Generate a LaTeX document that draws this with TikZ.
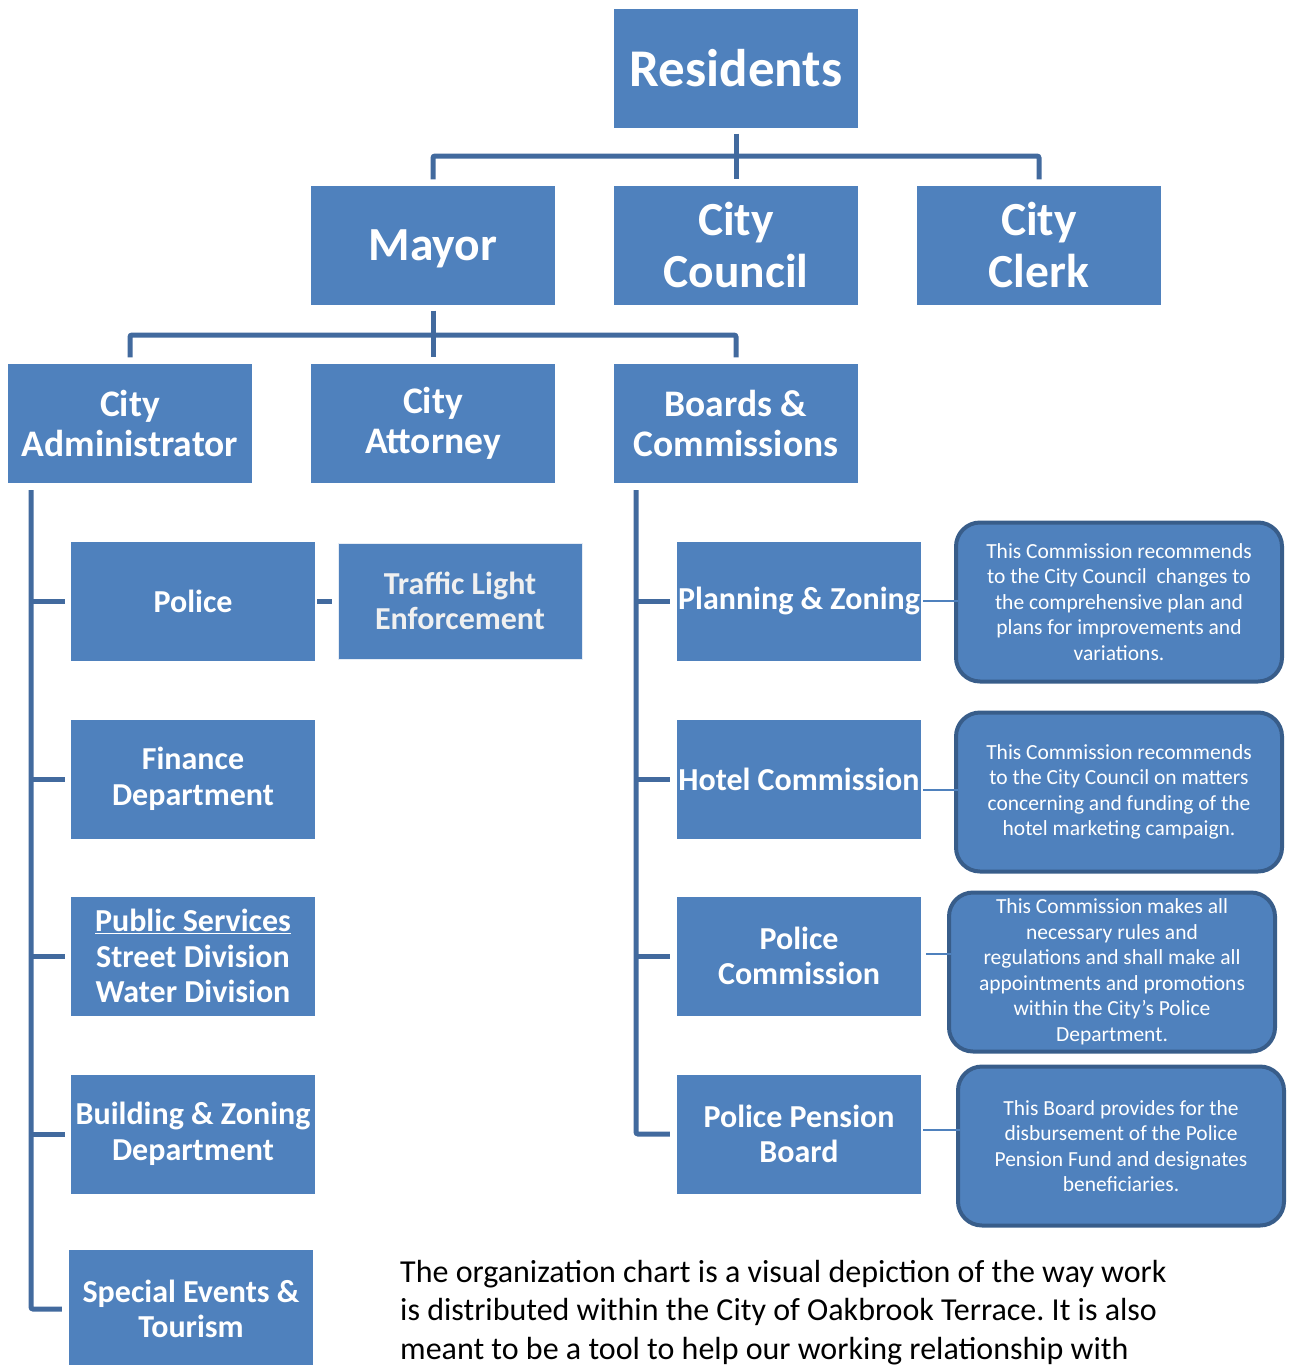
\documentclass[tikz,border=0pt]{standalone}
\usepackage{fontspec}
\setmainfont{Carlito}
\usepackage{xcolor}
\usetikzlibrary{positioning}
\frenchspacing

\definecolor{officeblue}{RGB}{79,129,189}
\definecolor{linkblue}{RGB}{66,106,158}
\definecolor{noteedge}{RGB}{56,93,138}

\begin{document}
\begin{tikzpicture}[x=1pt, y=-1pt, conn/.style={draw=linkblue, line width=5pt, rounded corners=2pt}, thinlink/.style={draw=officeblue, line width=2.2pt}]
% Define styles for the boxes and the notes
\tikzstyle{unit} = [fill=officeblue, text=white, align=center, inner sep=0pt, minimum width=244pt, minimum height=119pt, font=\bfseries\fontsize{32}{35.5}\selectfont]
\tikzstyle{top} = [unit, font=\bfseries\fontsize{47.5}{52}\selectfont]
\tikzstyle{mid} = [unit, font=\bfseries\fontsize{37.5}{40}\selectfont]
\tikzstyle{note} = [draw=noteedge, line width=4pt, fill=officeblue, rounded corners=24pt, text=white, align=center, inner sep=0pt, minimum width=326pt, minimum height=159pt, font=\fontsize{21.5}{25.5}\selectfont]

\useasboundingbox (0,0) rectangle (1290,1365);

% Nodes placement
\node [top, font=\bfseries\fontsize{53}{56}\selectfont] (res) at (736,68) {Residents};
\node [top, below of=res, node distance=177pt] (council) {City\\Council};
\node [top, left of=council, node distance=303pt, text depth=-4pt] (mayor) {Mayor};
\node [top, right of=council, node distance=303pt] (clerk) {City\\Clerk};
\node [mid, below of=mayor, node distance=178pt] (att) {City\\Attorney};
\node [mid, left of=att, node distance=303pt] (admin) {City\\Administrator};
\node [mid, right of=att, node distance=303pt] (boards) {Boards \&\\Commissions};

\node [unit] (police) at (193,601) {Police};
\node [unit, draw=white!85!officeblue, line width=0.8pt, text=white!94!black, right of=police, node distance=267pt, minimum height=116pt] (traffic) {Traffic Light\\Enforcement};
\node [unit, below of=police, node distance=178pt] (finance) {Finance\\Department};
\node [unit, below of=finance, node distance=177pt] (public) {\underline{Public Services}\\Street Division\\Water Division};
\node [unit, below of=public, node distance=178pt] (building) {Building \& Zoning\\Department};
\node [unit, below of=building, node distance=175pt, xshift=-2pt] (special) {Special Events \&\\Tourism};

\node [unit] (planning) at (799,601) {Planning \& Zoning};
\node [unit, below of=planning, node distance=178pt] (hotel) {Hotel Commission};
\node [unit, below of=hotel, node distance=177pt] (polcomm) {Police\\Commission};
\node [unit, below of=polcomm, node distance=178pt] (pension) {Police Pension\\Board};

\node [note] (plannote) at (1119,602) {This Commission recommends\\to the City Council\ \ changes to\\the comprehensive plan and\\plans for improvements and\\variations.};
\node [note] (hotelnote) at (1119,792) {This Commission recommends\\to the City Council on matters\\concerning and funding of the\\hotel marketing campaign.};
\node [note] (polnote) at (1112,972) {This Commission makes all\\necessary rules and\\regulations and shall make all\\appointments and promotions\\within the City’s Police\\Department.};
\node [note] (pensionnote) at (1121,1146) {This Board provides for the\\disbursement of the Police\\Pension Fund and designates\\beneficiaries.};

\node [anchor=base west, align=left, inner sep=0pt, font=\fontsize{32}{38.5}\selectfont] (blurb) at (400,1359) {The organization chart is a visual depiction of the way work\\is distributed within the City of Oakbrook Terrace. It is also\\meant to be a tool to help our working relationship with};

% Draw edges
\coordinate (topbar) at (736,156);
\coordinate (midbar) at (433,335);
\draw[conn] ([yshift=-6pt]res.south) -- ([yshift=6pt]council.north);
\draw[conn] ([yshift=6pt]mayor.north) -- (mayor.north |- topbar) -- (clerk.north |- topbar) -- ([yshift=6pt]clerk.north);
\draw[conn] ([yshift=-6pt]mayor.south) -- ([yshift=6pt]att.north);
\draw[conn] ([yshift=6pt]admin.north) -- (admin.north |- midbar) -- (boards.north |- midbar) -- ([yshift=6pt]boards.north);

% Spines down the two columns
\coordinate (lspine) at (31,490);
\coordinate (rspine) at (636,490);
\draw[conn] (lspine) |- ([xshift=-7pt]special.west);
\foreach \n in {police, finance, public, building}
  \draw[conn, rounded corners=0pt] (lspine |- \n.west) -- ([xshift=-6pt]\n.west);
\draw[conn] (rspine) |- ([xshift=-7pt]pension.west);
\foreach \n in {planning, hotel, polcomm}
  \draw[conn, rounded corners=0pt] (rspine |- \n.west) -- ([xshift=-7pt]\n.west);
\draw[conn, rounded corners=0pt] ([xshift=2pt]police.east) -- ([xshift=-6pt]traffic.west);

% Thin links to the notes
\draw[thinlink] ([xshift=2pt]planning.east) -- ([xshift=4pt]plannote.west |- planning.east);
\draw[thinlink] ([xshift=2pt,yshift=2pt]hotel.east |- hotelnote.west) -- ([xshift=4pt,yshift=2pt]hotelnote.west);
\draw[thinlink] ([xshift=5pt,yshift=2pt]polcomm.east) -- ([xshift=4pt,yshift=2pt]polnote.west |- polcomm.east);
\draw[thinlink] ([xshift=2pt,yshift=4pt]pension.east) -- ([xshift=4pt,yshift=4pt]pensionnote.west |- pension.east);
\end{tikzpicture}
\end{document}
